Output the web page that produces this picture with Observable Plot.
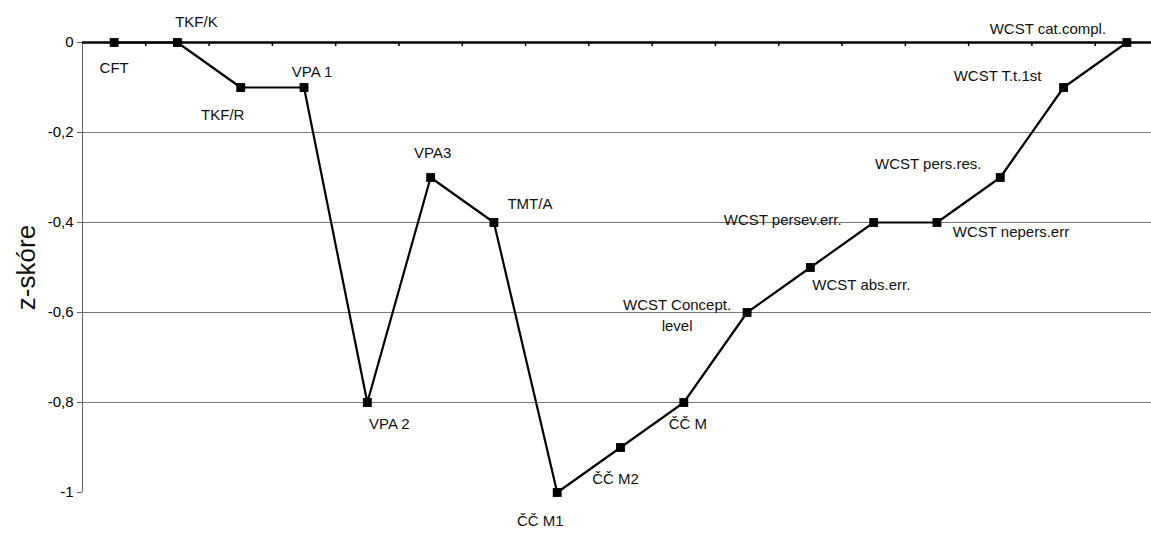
<!DOCTYPE html>
<html>
<head>
<meta charset="utf-8">
<script src="https://cdn.jsdelivr.net/npm/d3@7"></script>
<script src="https://cdn.jsdelivr.net/npm/@observablehq/plot@0.6"></script>
<style>
  html, body { margin: 0; padding: 0; background: #fff; }
  svg { display: block; }
</style>
</head>
<body>
<div id="chart"></div>
<script>
// Data
const categories = [
  "CFT", "TKF/K", "TKF/R", "VPA 1", "VPA 2", "VPA3", "TMT/A",
  "ČČ M1", "ČČ M2", "ČČ M", "WCST Concept.\nlevel", "WCST abs.err.",
  "WCST persev.err.", "WCST nepers.err", "WCST pers.res.", "WCST T.t.1st",
  "WCST cat.compl."
];
const zScores = [0, 0, -0.1, -0.1, -0.8, -0.3, -0.4, -1.0, -0.9, -0.8, -0.6, -0.5, -0.4, -0.4, -0.3, -0.1, 0];
const yTicks = [0, -0.2, -0.4, -0.6, -0.8, -1];
const gridValues = [-0.2, -0.4, -0.6, -0.8];

// Label placement (layout only, pixel offsets from each point)
const labelOffsets = [
  [0, 24], [19, -22], [-18, 26], [8, -17], [22, 20], [2, -26], [36, -20],
  [-17, 27], [-5, 30], [4, 20], [-70, 1], [51, 16], [-91, -4], [74, 8],
  [-72, -15], [-66, -13], [-79, -15]
];

const data = categories.map((c, i) => ({i, label: c, value: zScores[i], dx: labelOffsets[i][0], dy: labelOffsets[i][1]}));
const boundaries = d3.range(categories.length - 1).map(k => k + 0.5);
const FONT = "Liberation Sans, Arial, sans-serif";

const marks = [
  Plot.ruleY(gridValues, {stroke: "#777", strokeWidth: 1}),
  Plot.ruleX([-0.5], {y1: 0, y2: -1, stroke: "#666", strokeWidth: 1}),
  Plot.axisY({
    ticks: yTicks,
    tickFormat: d => String(d).replace(".", ","),
    tickSize: 5,
    tickPadding: 4,
    fontSize: 15,
    fontFamily: FONT,
    label: null,
    stroke: "#666"
  }),
  Plot.ruleY([0], {stroke: "black", strokeWidth: 2.5}),
  Plot.ruleX(boundaries, {y1: 0, y2: -0.009, stroke: "black", strokeWidth: 1.5}),
  Plot.line(data, {x: "i", y: "value", stroke: "black", strokeWidth: 2.2}),
  Plot.dot(data, {x: "i", y: "value", symbol: "square", r: 5, fill: "black", stroke: "none"}),
  ...data.map(d => Plot.text([d], {
    x: "i", y: "value", text: "label",
    dx: d.dx, dy: d.dy,
    fontSize: 15, lineHeight: 1.4,
    fontFamily: FONT,
    fill: "#111"
  })),
  Plot.text(["z-skóre"], {
    frameAnchor: "left", textAnchor: "middle", dx: -56, rotate: -90,
    fontSize: 26, fontFamily: FONT, fill: "#111"
  })
];

const chart = Plot.plot({
  width: 1151,
  height: 540,
  marginLeft: 82,
  marginRight: 0,
  marginTop: 42,
  marginBottom: 48,
  style: {background: "#fff", fontFamily: FONT},
  x: {domain: [-0.5, categories.length - 0.5], range: [82, 1158], axis: null},
  y: {domain: [-1, 0], axis: null},
  marks
});
document.getElementById("chart").appendChild(chart);
</script>
</body>
</html>
